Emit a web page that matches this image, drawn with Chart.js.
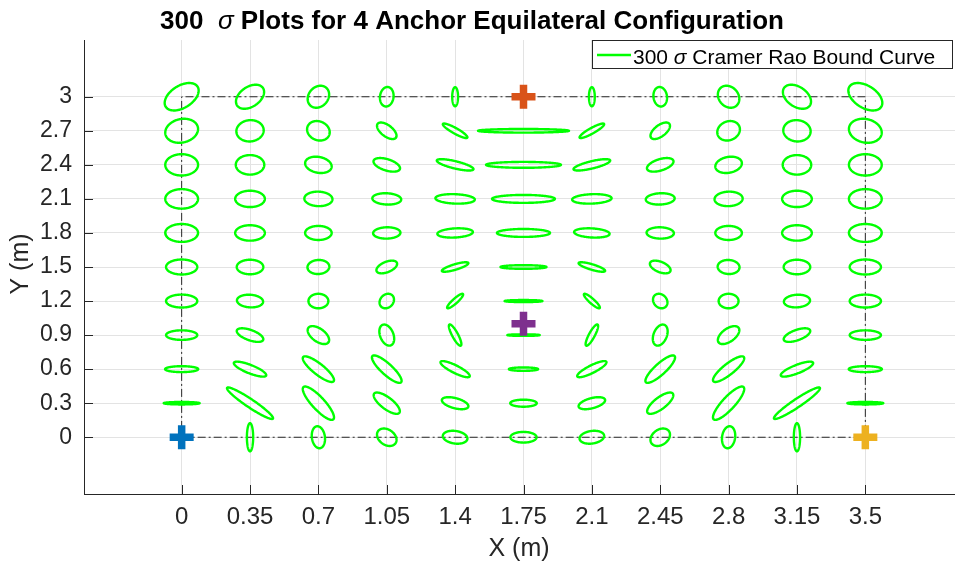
<!DOCTYPE html>
<html>
<head>
<meta charset="utf-8">
<script src="https://cdn.jsdelivr.net/npm/chart.js@4.4.1/dist/chart.umd.min.js"></script>
<style>
  html, body { margin: 0; padding: 0; background: #fff; overflow: hidden; }
  #wrap { width: 955px; height: 563px; overflow: hidden; position: relative; }
  #box { width: 985px; height: 563px; }
</style>
</head>
<body>
<div id="wrap"><div id="box"><canvas id="myChart"></canvas></div></div>
<script>
// grid of test positions (m)
const xGrid = [0, 0.35, 0.7, 1.05, 1.4, 1.75, 2.1, 2.45, 2.8, 3.15, 3.5];
const yGrid = [0, 0.3, 0.6, 0.9, 1.2, 1.5, 1.8, 2.1, 2.4, 2.7, 3];

const xTickLabels = ['0', '0.35', '0.7', '1.05', '1.4', '1.75', '2.1', '2.45', '2.8', '3.15', '3.5'];
const yTickLabels = ['0', '0.3', '0.6', '0.9', '1.2', '1.5', '1.8', '2.1', '2.4', '2.7', '3'];

// anchors
const anchorX = [0, 3.5, 1.75, 1.75];
const anchorY = [0, 0, 3, 1];
const anchorColors = ['#0072BD', '#EDB120', '#D95319', '#7E2F8E'];

// half extent of each ellipse along x (m), one row per y value (y = 0 first)
const semiX = [
  [null, 0.016, 0.034, 0.050, 0.063, 0.067, 0.063, 0.050, 0.034, 0.016, null],
  [0.092, 0.118, 0.080, 0.067, 0.068, 0.068, 0.068, 0.067, 0.080, 0.118, 0.092],
  [0.085, 0.083, 0.080, 0.076, 0.075, 0.075, 0.075, 0.076, 0.080, 0.083, 0.085],
  [0.080, 0.068, 0.055, 0.038, 0.032, 0.083, 0.032, 0.038, 0.055, 0.068, 0.080],
  [0.080, 0.067, 0.051, 0.037, 0.041, 0.097, 0.041, 0.037, 0.051, 0.067, 0.080],
  [0.080, 0.068, 0.056, 0.053, 0.068, 0.118, 0.068, 0.053, 0.056, 0.068, 0.080],
  [0.084, 0.076, 0.068, 0.070, 0.091, 0.136, 0.091, 0.070, 0.068, 0.076, 0.084],
  [0.084, 0.076, 0.072, 0.074, 0.101, 0.161, 0.101, 0.074, 0.072, 0.076, 0.084],
  [0.084, 0.073, 0.068, 0.068, 0.094, 0.192, 0.094, 0.068, 0.068, 0.073, 0.084],
  [0.084, 0.070, 0.058, 0.050, 0.063, 0.233, 0.063, 0.050, 0.058, 0.070, 0.084],
  [0.087, 0.072, 0.055, 0.035, 0.015, null, 0.015, 0.035, 0.055, 0.072, 0.087]
];

// half extent along y (m)
const semiY = [
  [null, 0.124, 0.097, 0.077, 0.057, 0.047, 0.057, 0.077, 0.097, 0.124, null],
  [0.011, 0.139, 0.147, 0.094, 0.053, 0.031, 0.053, 0.094, 0.147, 0.139, 0.011],
  [0.026, 0.066, 0.113, 0.121, 0.071, 0.015, 0.071, 0.121, 0.113, 0.066, 0.026],
  [0.042, 0.060, 0.079, 0.093, 0.094, 0.007, 0.094, 0.093, 0.079, 0.060, 0.042],
  [0.057, 0.056, 0.064, 0.064, 0.064, 0.009, 0.064, 0.064, 0.064, 0.056, 0.057],
  [0.066, 0.064, 0.062, 0.056, 0.042, 0.016, 0.042, 0.056, 0.062, 0.064, 0.066],
  [0.079, 0.068, 0.062, 0.050, 0.041, 0.035, 0.041, 0.050, 0.062, 0.068, 0.079],
  [0.086, 0.072, 0.064, 0.050, 0.042, 0.035, 0.042, 0.050, 0.064, 0.072, 0.086],
  [0.094, 0.086, 0.072, 0.060, 0.050, 0.026, 0.050, 0.060, 0.072, 0.086, 0.094],
  [0.106, 0.094, 0.086, 0.073, 0.064, 0.016, 0.064, 0.073, 0.086, 0.094, 0.106],
  [0.121, 0.106, 0.097, 0.086, 0.084, null, 0.084, 0.086, 0.097, 0.106, 0.121]
];

// x-y correlation of each ellipse (sign gives the tilt)
const corr = [
  [null, 0, -0.15, -0.3, -0.2, 0, 0.2, 0.3, 0.15, 0, null],
  [0, -0.95, -0.85, -0.75, -0.5, 0, 0.5, 0.75, 0.85, 0.95, 0],
  [0, -0.8, -0.85, -0.85, -0.85, 0, 0.85, 0.85, 0.85, 0.8, 0],
  [0, -0.6, -0.55, -0.35, -0.85, 0, 0.85, 0.35, 0.55, 0.6, 0],
  [0, -0.1, 0, 0.2, 0.9, 0, -0.9, -0.2, 0, 0.1, 0],
  [0, 0, 0.05, 0.5, 0.8, 0, -0.8, -0.5, -0.05, 0, 0],
  [0, 0, 0, 0.05, 0.2, 0, -0.2, -0.05, 0, 0, 0],
  [0, 0, -0.05, -0.1, -0.15, 0, 0.15, 0.1, 0.05, 0, 0],
  [0, 0, -0.2, -0.5, -0.75, 0, 0.75, 0.5, 0.2, 0, 0],
  [0.15, 0.05, -0.15, -0.6, -0.9, 0, 0.9, 0.6, 0.15, -0.05, -0.15],
  [0.45, 0.4, 0.2, 0.1, 0, null, 0, -0.1, -0.2, -0.4, -0.45]
];

// dash-dot outline through the corner anchors
const outlineX = [0, 3.5, 3.5, 0, 0];
const outlineY = [0, 0, 3, 3, 0];

function ellipsePoints(cx, cy, w, h, r) {
  var pts = [];
  var k = Math.sqrt(1 - r * r);
  for (var i = 0; i <= 90; i++) {
    var t = 2 * Math.PI * i / 90;
    pts.push({ x: cx + w * Math.cos(t), y: cy + h * (r * Math.cos(t) + k * Math.sin(t)) });
  }
  return pts;
}

var datasets = [];

datasets.push({
  label: 'anchors',
  data: anchorX.map((x, i) => ({ x: x, y: anchorY[i] })),
  showLine: false,
  pointStyle: 'cross',
  pointRadius: 12,
  pointBorderWidth: 7.5,
  pointBorderColor: anchorColors,
  pointBackgroundColor: anchorColors,
  order: 0
});

yGrid.forEach(function(y, r) {
  xGrid.forEach(function(x, c) {
    if (semiX[r][c] == null) return;
    datasets.push({
      label: '300 σ Cramer Rao Bound Curve',
      data: ellipsePoints(x, y, semiX[r][c], semiY[r][c], corr[r][c]),
      showLine: true,
      pointRadius: 0,
      borderColor: '#00FF00',
      borderWidth: 2.4,
      borderJoinStyle: 'round',
      borderCapStyle: 'round',
      fill: false,
      tension: 0.001, // keeps Chart.js off its fast path, which mangles closed curves
      order: 1
    });
  });
});

datasets.push({
  label: 'outline',
  data: outlineX.map((x, i) => ({ x: x, y: outlineY[i] })),
  showLine: true,
  pointRadius: 0,
  borderColor: '#262626',
  borderWidth: 1,
  borderDash: [8, 3, 2, 3],
  fill: false,
  order: 2
});

function drawParts(ctx, parts, x0, y, align) {
  var total = 0;
  parts.forEach(function(p) { ctx.font = p.font; p.w = ctx.measureText(p.text).width; total += p.w; });
  var x = align === 'center' ? x0 - total / 2 : x0;
  ctx.textAlign = 'left';
  parts.forEach(function(p) { ctx.font = p.font; ctx.fillText(p.text, x, y); x += p.w; });
}

const fam = '"Liberation Sans", Arial, sans-serif';

const decor = {
  id: 'decor',
  beforeDatasetsDraw(chart) {
    const ctx = chart.ctx, a = chart.chartArea;
    const xs = chart.scales.x, ys = chart.scales.y;
    ctx.save();
    ctx.strokeStyle = '#262626';
    ctx.lineWidth = 1;
    ctx.beginPath();
    xGrid.forEach(function(v) {
      var px = Math.round(xs.getPixelForValue(v)) + 0.5;
      ctx.moveTo(px, a.bottom); ctx.lineTo(px, a.bottom - 9);
    });
    yGrid.forEach(function(v) {
      var py = Math.round(ys.getPixelForValue(v)) + 0.5;
      ctx.moveTo(a.left, py); ctx.lineTo(a.left + 9, py);
    });
    ctx.stroke();
    ctx.restore();
  },
  afterDraw(chart) {
    const ctx = chart.ctx;
    ctx.save();
    ctx.fillStyle = '#000';
    ctx.textBaseline = 'alphabetic';
    drawParts(ctx, [
      { text: '300  ', font: 'bold 26px ' + fam },
      { text: 'σ', font: 'italic 26px ' + fam },
      { text: ' Plots for 4 Anchor Equilateral Configuration', font: 'bold 26px ' + fam }
    ], 472, 29, 'center');

    // legend box
    ctx.fillStyle = '#fff';
    ctx.fillRect(592.5, 40.5, 360, 28);
    ctx.strokeStyle = '#262626';
    ctx.lineWidth = 1;
    ctx.strokeRect(592.5, 40.5, 360, 28);
    ctx.strokeStyle = '#00FF00';
    ctx.lineWidth = 2.4;
    ctx.beginPath();
    ctx.moveTo(597, 55); ctx.lineTo(631, 55);
    ctx.stroke();
    ctx.fillStyle = '#000';
    drawParts(ctx, [
      { text: '300 ', font: '21px ' + fam },
      { text: 'σ', font: 'italic 21px ' + fam },
      { text: ' Cramer Rao Bound Curve', font: '21px ' + fam }
    ], 633, 64, 'left');

    // axis titles
    ctx.fillStyle = '#262626';
    ctx.font = '25px ' + fam;
    ctx.textAlign = 'center';
    ctx.textBaseline = 'middle';
    ctx.fillText('X (m)', 519, 549);
    ctx.translate(21, 264);
    ctx.rotate(-Math.PI / 2);
    ctx.fillText('Y (m)', 0, 0);
    ctx.restore();
  }
};

var ctx = document.getElementById('myChart').getContext('2d');
var myChart = new Chart(ctx, {
  type: 'scatter',
  data: { datasets: datasets },
  options: {
    responsive: true,
    maintainAspectRatio: false,
    animation: false,
    events: [],
    layout: { padding: { top: 40, right: 22, bottom: 0, left: 0 } },
    plugins: {
      legend: { display: false },
      title: { display: false },
      tooltip: { enabled: false }
    },
    scales: {
      x: {
        type: 'linear',
        min: -0.5,
        max: 4.0,
        afterBuildTicks: function(scale) { scale.ticks = xGrid.map(v => ({ value: v })); },
        afterFit: function(scale) { scale.height = 69; },
        ticks: {
          autoSkip: false,
          maxRotation: 0,
          padding: 9,
          color: '#262626',
          font: { family: fam, size: 24 },
          callback: function(v, i) { return xTickLabels[i]; }
        },
        grid: { color: '#e3e3e3', lineWidth: 1, drawTicks: false },
        border: { display: true, color: '#262626', width: 1 }
      },
      y: {
        type: 'linear',
        min: -0.5,
        max: 3.5,
        afterBuildTicks: function(scale) { scale.ticks = yGrid.map(v => ({ value: v })); },
        afterFit: function(scale) { scale.width = 84; },
        ticks: {
          padding: 12,
          color: '#262626',
          font: { family: fam, size: 23 },
          callback: function(v, i) { return yTickLabels[i]; }
        },
        grid: { color: '#e3e3e3', lineWidth: 1, drawTicks: false },
        border: { display: true, color: '#262626', width: 1 }
      }
    }
  },
  plugins: [decor]
});
</script>
</body>
</html>
